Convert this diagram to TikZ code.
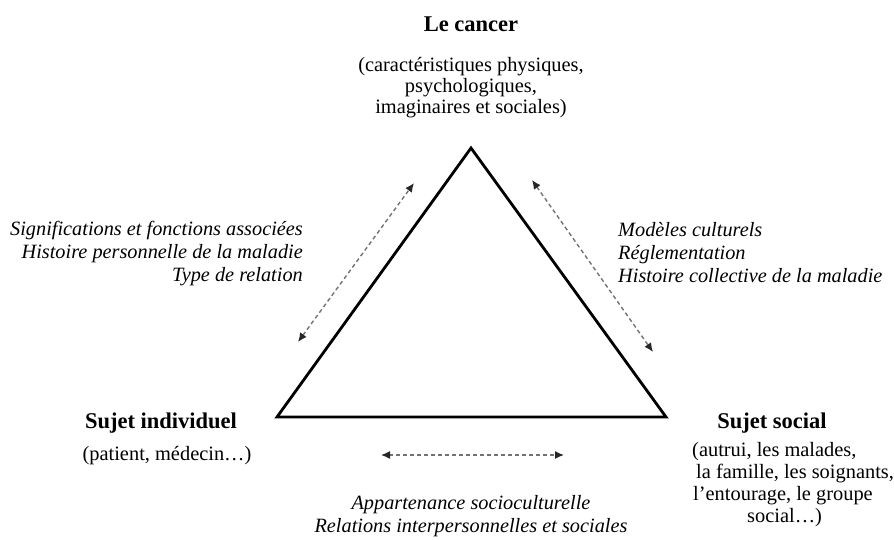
\documentclass[tikz,border=0pt]{standalone}
\usepackage{fontspec}
\setmainfont{Liberation Serif}
\usetikzlibrary{arrows.meta}
\tikzset{
  title/.style={font=\fontsize{22.5}{24}\selectfont\bfseries, inner sep=0pt},
  body/.style={font=\fontsize{20.4}{21}\selectfont, inner sep=0pt},
  rel/.style={font=\fontsize{20.3}{23}\selectfont\itshape, inner sep=0pt},
  edge/.style={line width=2.8pt, line join=miter},
  link/.style={dashed, dash pattern=on 4pt off 3pt, draw=black!55, line width=1.4pt,
    {Latex[length=9pt,width=8pt,color=black!85]}-{Latex[length=9pt,width=8pt,color=black!85]}},
}
\begin{document}
\begin{tikzpicture}[x=1pt,y=-1pt]
\useasboundingbox (0,0) rectangle (894,540);
% triangle vertices
\coordinate (top) at (471,148);
\coordinate (bl) at (277,417);
\coordinate (br) at (666,417);
\draw[edge] (top) -- (bl) -- (br) -- cycle;

% labels
\node[title] (cancer) at (471,24) {Le cancer};
\node[body, align=center] (cancerd) at (471,88) {(caractéristiques physiques,\\psychologiques,\\imaginaires et sociales)};

\node[title] (indiv) at (161,423) {Sujet individuel};
\node[body] (indivd) at (167,456) {(patient, médecin…)};

\node[title] (social) at (772,423) {Sujet social};
\node[body, font=\fontsize{20.4}{22}\selectfont, align=left, anchor=west] (sociald) at (692,485) {(autrui, les malades,\\\hspace*{4pt}la famille, les soignants,\\\hspace*{1pt}l’entourage, le groupe\\\hspace*{55pt}social…)};

\node[rel, align=right, anchor=east] (relleft) at (303,254) {Significations et fonctions associées\\Histoire personnelle de la maladie\\Type de relation};
\node[rel, align=left, anchor=west] (relright) at (618,253) {Modèles culturels\\Réglementation\\Histoire collective de la maladie};
\node[rel, align=center] (relbottom) at (471,516.5) {Appartenance socioculturelle\\Relations interpersonnelles et sociales};

% arrows
\coordinate (la1) at (298,342);
\coordinate (la2) at (414,183);
\coordinate (ra1) at (532,180);
\coordinate (ra2) at (653,352);
\coordinate (ba1) at (381,455);
\coordinate (ba2) at (564,455);
\draw[link] (la1) -- (la2);
\draw[link] (ra1) -- (ra2);
\draw[link] (ba1) -- (ba2);
\end{tikzpicture}
\end{document}
